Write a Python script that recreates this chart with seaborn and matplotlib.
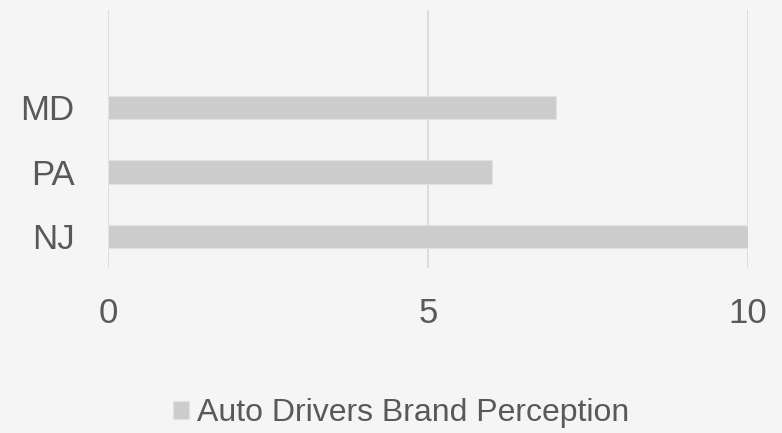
import matplotlib
matplotlib.use("Agg")
import matplotlib.pyplot as plt
import seaborn as sns
import pandas as pd

# data
states = ["MD", "PA", "NJ"]
scores = [7, 6, 10]
series_name = "Auto Drivers Brand Perception"
x_ticks = [0, 5, 10]

bg = "#f5f5f5"
bar_color = "#cccccc"
text_color = "#595959"
grid_color = "#d9d9d9"

sns.set_theme(style="white")
plt.rcParams["font.family"] = ["Liberation Sans", "DejaVu Sans"]

df = pd.DataFrame({"state": states, "score": scores})

fig = plt.figure(figsize=(7.82, 4.33), dpi=100, facecolor=bg)
ax = fig.add_axes([108 / 782, 1 - 268 / 433, 640 / 782, 258 / 433])
ax.set_facecolor(bg)

sns.barplot(data=df, x="score", y="state", order=states, orient="h",
            color=bar_color, width=0.36, saturation=1, label=series_name,
            linewidth=0.8, edgecolor="#e2e2e2", ax=ax)

ax.set_xlim(0, 10)
ax.set_ylim(2.49, -1.51)
ax.set_xticks(x_ticks)
ax.set_xlabel("")
ax.set_ylabel("")
for s in ax.spines.values():
    s.set_visible(False)
ax.grid(axis="x", color=grid_color, linewidth=1.2)
ax.grid(axis="y", visible=False)
ax.set_axisbelow(True)
ax.tick_params(axis="x", length=0, pad=21, labelsize=25, labelcolor=text_color)
ax.tick_params(axis="y", length=0, pad=24, labelsize=25, labelcolor=text_color)

handles, labels = ax.get_legend_handles_labels()
if ax.get_legend() is not None:
    ax.get_legend().remove()
fig.legend(handles, labels, loc="center", bbox_to_anchor=(0.513, 0.046),
           frameon=False, fontsize=23, labelcolor=text_color,
           handlelength=0.5, handleheight=0.5, handletextpad=0.25)

fig.savefig("out.png", dpi=100, facecolor=bg)
